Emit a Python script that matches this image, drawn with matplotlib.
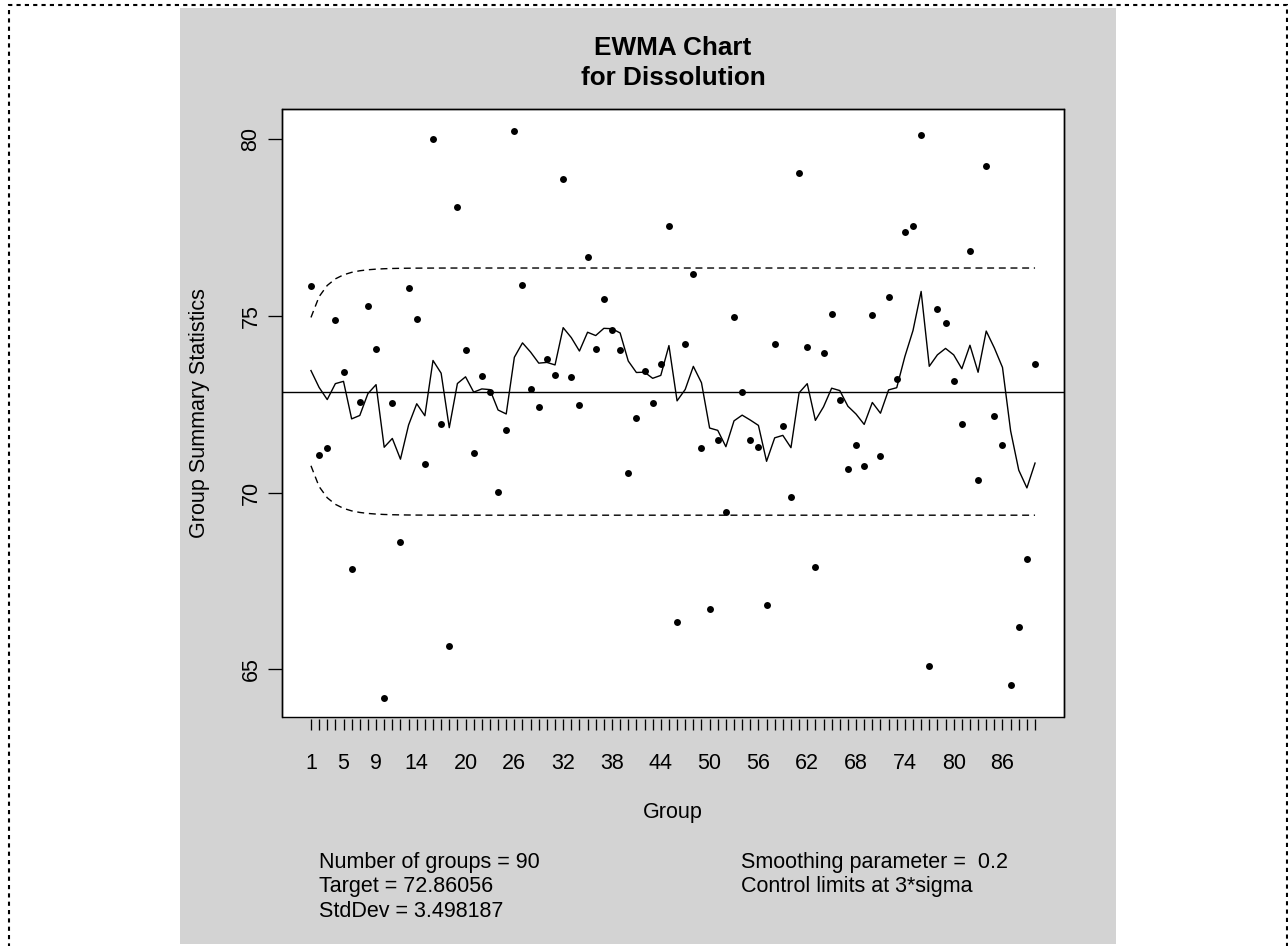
import numpy as np
import matplotlib
matplotlib.use("Agg")
import matplotlib.pyplot as plt
from matplotlib.patches import Rectangle

plt.rcParams['font.family'] = ['Liberation Sans', 'DejaVu Sans']

# ---------------- data ----------------
groups = list(range(1, 91))
dissolution = [
    75.84, 71.07, 71.26, 74.89, 73.41, 67.84, 72.57, 75.28, 74.07, 64.20,
    72.53, 68.60, 75.79, 74.92, 70.82, 80.00, 71.94, 65.67, 78.09, 74.04,
    71.11, 73.30, 72.84, 70.03, 71.78, 80.25, 75.87, 72.93, 72.42, 73.77,
    73.33, 78.89, 73.26, 72.49, 76.67, 74.07, 75.47, 74.60, 74.04, 70.55,
    72.10, 73.45, 72.54, 73.65, 77.54, 66.34, 74.21, 76.19, 71.26, 66.70,
    71.50, 69.45, 74.96, 72.84, 71.50, 71.30, 66.82, 74.21, 71.90, 69.88,
    79.04, 74.12, 67.89, 73.96, 75.07, 72.62, 70.67, 71.34, 70.76, 75.04,
    71.03, 75.55, 73.22, 77.38, 77.54, 80.12, 65.10, 75.20, 74.81, 73.17,
    71.94, 76.83, 70.35, 79.24, 72.18, 71.34, 64.56, 66.19, 68.13, 73.65,
]
target = 72.86056
std_dev = 3.498187
smoothing = 0.2
nsigmas = 3
x_label_groups = [1, 5, 9, 14, 20, 26, 32, 38, 44, 50, 56, 62, 68, 74, 80, 86]
y_ticks = [65, 70, 75, 80]

# EWMA statistic and control limits (as defined by the chart parameters)
ewma = []
z = target
for v in dissolution:
    z = smoothing * v + (1 - smoothing) * z
    ewma.append(z)
idx = np.array(groups)
sig_i = std_dev * np.sqrt(smoothing / (2 - smoothing) * (1 - (1 - smoothing) ** (2 * idx)))
ucl = target + nsigmas * sig_i
lcl = target - nsigmas * sig_i

# ---------------- figure ----------------
W, H = 1288, 946
fig = plt.figure(figsize=(W / 100, H / 100), dpi=100)
fig.patch.set_facecolor('white')

# grey device background
fig.add_artist(Rectangle((180 / W, 1 - 944 / H), 936 / W, 936 / H,
                         transform=fig.transFigure, facecolor='#d3d3d3',
                         edgecolor='none', zorder=-5))
# dashed outer border
fig.add_artist(Rectangle((9 / W, 1 - 952 / H), (1286.5 - 9) / W, (952 - 5) / H,
                         transform=fig.transFigure, fill=False, edgecolor='black',
                         lw=1.5, ls=(0, (2, 2)), zorder=-4))

ax = fig.add_axes([282 / W, 1 - 717 / H, 782 / W, 608 / H])
ax.set_facecolor('white')
ax.set_xlim(-2.56, 93.56)
ax.set_ylim(63.65, 80.86)

dash = (0, (5.0, 3.4))
ax.axhline(target, color='black', lw=1.0, zorder=2)
ax.plot(groups, ucl, color='black', lw=1.0, ls=dash, zorder=2)
ax.plot(groups, lcl, color='black', lw=1.0, ls=dash, zorder=2)
ax.plot(groups, ewma, color='black', lw=1.0, zorder=3)
ax.plot(groups, dissolution, 'o', color='black', ms=5.0, mew=0, zorder=4)

# box and axes
for s in ['left', 'right', 'top']:
    ax.spines[s].set_linewidth(1.0)
ax.spines['bottom'].set_visible(False)
ax.spines['bottom'].set_position(('outward', 1.6))
ax.add_patch(Rectangle((0, 0), 1, 1, transform=ax.transAxes, fill=False,
                       edgecolor='black', lw=1.0, clip_on=False, zorder=6))

ax.set_xticks(groups)
ax.set_xticklabels([str(g) if g in x_label_groups else '' for g in groups])
ax.tick_params(axis='x', direction='out', length=7.6, width=0.95,
               pad=17.0, labelsize=15.5, colors='black')

ax.set_yticks(y_ticks)
ax.set_yticklabels([str(v) for v in y_ticks])
ax.tick_params(axis='y', direction='out', length=10, width=0.95,
               pad=4.7, labelsize=15.5, labelrotation=90, colors='black')
plt.setp(ax.get_yticklabels(), va='center')

# titles and labels
fig.text(673 / W, 1 - 55 / H, 'EWMA Chart', ha='center', va='baseline',
         fontsize=18.8, fontweight='bold')
fig.text(673 / W, 1 - 85 / H, 'for Dissolution', ha='center', va='baseline',
         fontsize=18.8, fontweight='bold')
fig.text(673 / W, 1 - 818 / H, 'Group', ha='center', va='baseline', fontsize=15.5)
fig.text(205 / W, 1 - 413 / H, 'Group Summary Statistics', rotation=90,
         rotation_mode='anchor', ha='center', va='baseline', fontsize=15.5)

left_lines = ['Number of groups = 90', 'Target = 72.86056', 'StdDev = 3.498187']
right_lines = ['Smoothing parameter =  0.2', 'Control limits at 3*sigma']
for k, t in enumerate(left_lines):
    fig.text(319 / W, 1 - (868 + 24.4 * k) / H, t, ha='left', va='baseline', fontsize=15.5)
for k, t in enumerate(right_lines):
    fig.text(741 / W, 1 - (868 + 24.4 * k) / H, t, ha='left', va='baseline', fontsize=15.5)

fig.savefig('out.png', dpi=100)
